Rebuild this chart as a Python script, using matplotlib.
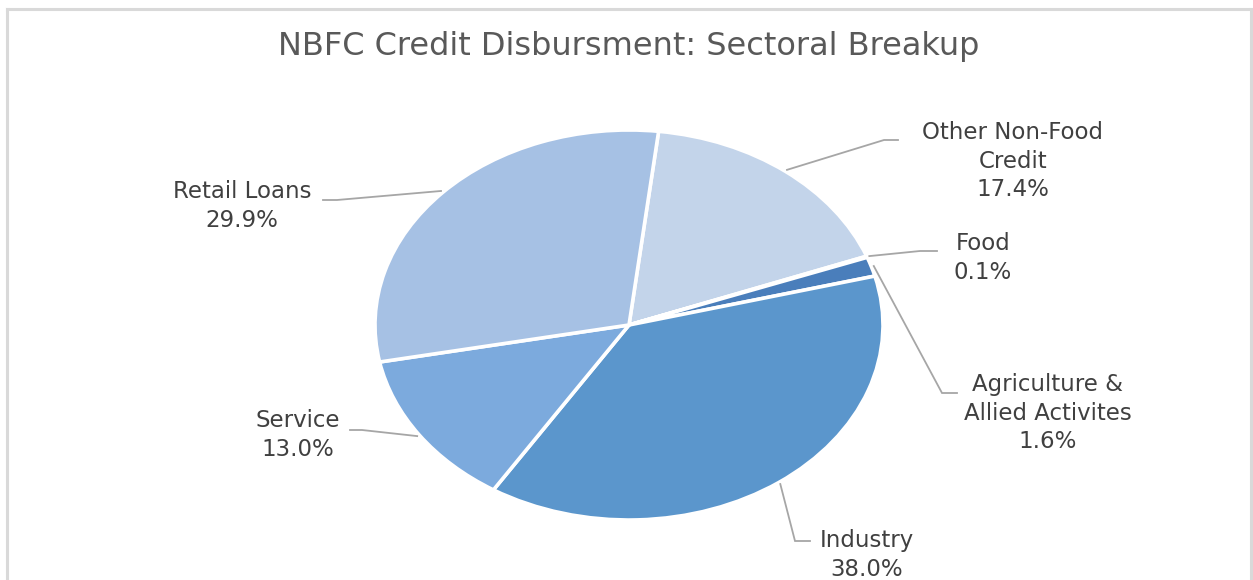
import numpy as np
import matplotlib
matplotlib.use("Agg")
import matplotlib.pyplot as plt
from matplotlib.lines import Line2D

plt.rcParams['font.family'] = ['DejaVu Sans']

# data (clockwise from just right of 12 o'clock)
sectors = ["Other Non-Food\nCredit", "Food", "Agriculture &\nAllied Activites",
           "Industry", "Service", "Retail Loans"]
shares = [17.4, 0.1, 1.6, 38.0, 13.0, 29.9]
colors = ["#C3D4EA", "#2F5F93", "#4A7EBB", "#5B96CC", "#7CAADD", "#A6C1E4"]

# layout in pixels of a 1253x580 canvas
W, H = 1253, 580
CX, CY, RX, RY = 629, 325, 254, 195
# (label centre x, label centre y, elbow x, elbow y, stub end x)
label_pos = [
    (1013, 161, 884, 140, 898),
    (983, 258, 920, 251, 937),
    (1048, 413, 942, 393, 957),
    (867, 555, 795, 541, 810),
    (298, 435, 362, 430, 350),
    (242, 206, 337, 200, 323),
]

def px(x, y):
    return (x - CX) / RX, (CY - y) / RY

fig = plt.figure(figsize=(W / 100, H / 100), dpi=100)
ax = fig.add_axes([0, 0, 1, 1])
wedges, _ = ax.pie(shares, colors=colors, startangle=83.3, counterclock=False,
                   radius=1.0, wedgeprops=dict(edgecolor="white", linewidth=2.6))
ax.set_aspect('auto')
x0, y1 = px(0, 0)
x1, y0 = px(W, H)
ax.set_xlim(x0, x1)
ax.set_ylim(y0, y1)
ax.axis('off')

txt_col = "#404040"
line_col = "#A6A6A6"
for w, name, val, (lx, ly, ex, ey, sx) in zip(wedges, sectors, shares, label_pos):
    th = np.deg2rad((w.theta1 + w.theta2) / 2)
    r = 1.01
    p0 = (r * np.cos(th), r * np.sin(th))
    p1 = px(ex, ey)
    p2 = px(sx, ey)
    ax.plot([p0[0], p1[0], p2[0]], [p0[1], p1[1], p2[1]], color=line_col,
            lw=1.3, solid_joinstyle='miter', clip_on=False)
    tx, ty = px(lx, ly)
    ax.text(tx, ty, "%s\n%.1f%%" % (name, val), ha='center', va='center',
            fontsize=16.5, color=txt_col, linespacing=1.3)

fig.text(629 / W, 1 - 47 / H, "NBFC Credit Disbursment: Sectoral Breakup",
         ha='center', va='center', fontsize=23, color="#595959")

# chart frame
fc = "#D9D9D9"
fig.add_artist(Line2D([7 / W, 7 / W], [0, 1 - 8.5 / H], color=fc, lw=2.2))
fig.add_artist(Line2D([7 / W, 1251 / W], [1 - 8.5 / H, 1 - 8.5 / H], color=fc, lw=2.2))
fig.add_artist(Line2D([1251 / W, 1251 / W], [0, 1 - 8.5 / H], color=fc, lw=2.2))

fig.savefig("out.png", dpi=100)
